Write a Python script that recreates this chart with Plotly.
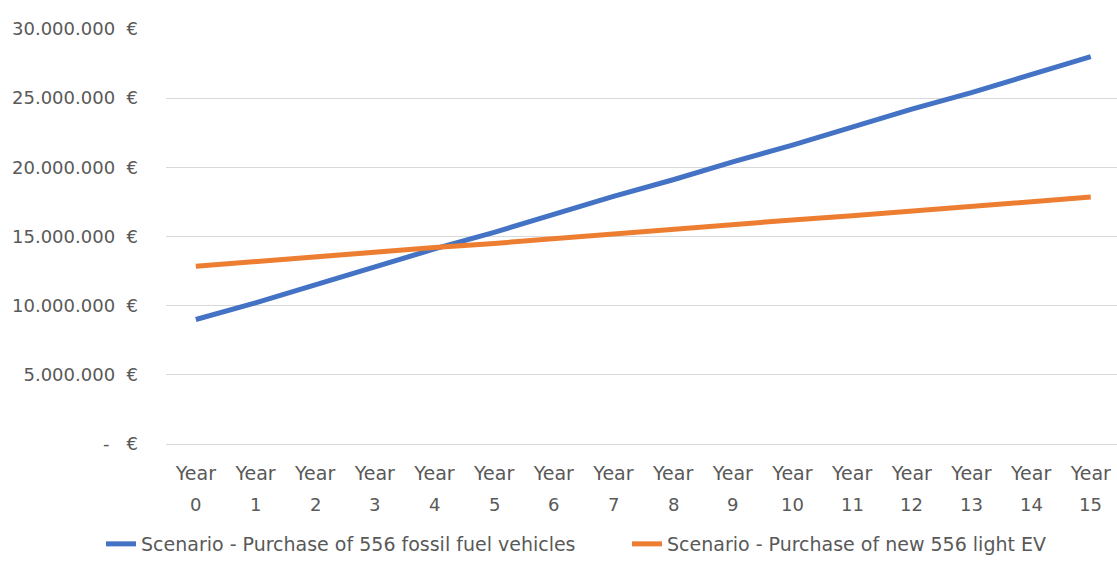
import plotly.graph_objects as go

# Cumulative cost per scenario (EUR), Year 0 .. Year 15
years = list(range(16))
year_labels = ["Year"] * len(years)
year_numbers = [str(y) for y in years]

fossil_cost = [9.0e6, 10.2e6, 11.5e6, 12.8e6, 14.1e6, 15.3e6, 16.6e6, 17.9e6,
               19.1e6, 20.4e6, 21.6e6, 22.9e6, 24.2e6, 25.4e6, 26.7e6, 28.0e6]
ev_cost = [12.85e6, 13.2e6, 13.5e6, 13.85e6, 14.2e6, 14.5e6, 14.85e6, 15.2e6,
           15.5e6, 15.85e6, 16.2e6, 16.5e6, 16.85e6, 17.2e6, 17.5e6, 17.85e6]

series_names = ["Scenario - Purchase of 556 fossil fuel vehicles",
                "Scenario - Purchase of new 556 light EV"]

y_ticks = [0, 5e6, 10e6, 15e6, 20e6, 25e6, 30e6]
NBSP = "\u00a0"
y_ticktext = [f"-{NBSP*3}€"] + [f"{int(v):,}".replace(",", ".") + f"{NBSP*2}€" for v in y_ticks[1:]]

FONT = "DejaVu Sans, sans-serif"
TXT = "#595959"

fig = go.Figure()
fig.add_trace(go.Scatter(x=years, y=fossil_cost, mode="lines", name=series_names[0],
                         line=dict(color="#4472C4", width=5), legend="legend"))
fig.add_trace(go.Scatter(x=years, y=ev_cost, mode="lines", name=series_names[1],
                         line=dict(color="#ED7D31", width=5), legend="legend2"))

# second row of the category labels (year number)
for x, t in zip(years, year_numbers):
    fig.add_annotation(x=x, xref="x", y=0, yref="paper", yanchor="top",
                       yshift=-48, text=t, showarrow=False,
                       font=dict(family=FONT, size=18, color=TXT))

legend_style = dict(orientation="h", xref="container", xanchor="left",
                    yref="container", y=-0.039, yanchor="bottom",
                    font=dict(family=FONT, size=19, color=TXT))

fig.update_layout(
    width=1117, height=563,
    margin=dict(l=166, r=0, t=29, b=119),
    paper_bgcolor="white", plot_bgcolor="white",
    font=dict(family=FONT, size=18, color=TXT),
    showlegend=True,
    legend=dict(x=101 / 1117, **legend_style),
    legend2=dict(x=627 / 1117, **legend_style),
    xaxis=dict(range=[-0.5, 15.44], tickvals=years, ticktext=year_labels,
               showgrid=False, zeroline=False, showline=False, ticks="",
               ticklabelstandoff=16, tickfont=dict(size=19, color=TXT)),
    yaxis=dict(range=[0, 30e6], tickvals=y_ticks, ticktext=y_ticktext,
               showgrid=True, gridcolor="#D9D9D9", gridwidth=1,
               zeroline=True, zerolinecolor="#D9D9D9", zerolinewidth=1,
               showline=False, ticks="", ticklabelstandoff=27,
               tickfont=dict(size=18, color=TXT)),
)

fig.write_html("out.html")
